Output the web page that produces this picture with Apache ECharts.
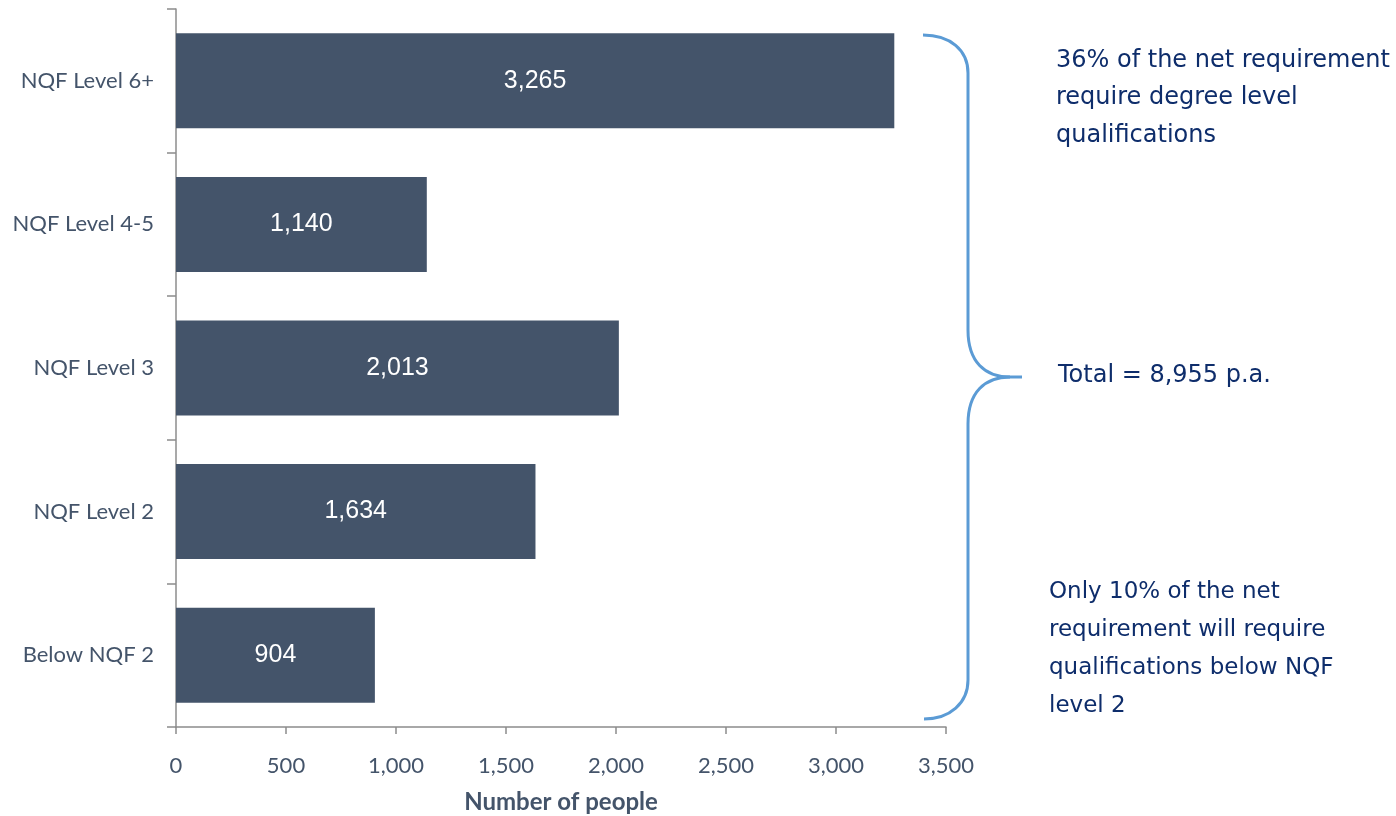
<!DOCTYPE html>
<html>
<head>
<meta charset="utf-8">
<script src="https://cdn.jsdelivr.net/npm/echarts@6/dist/echarts.min.js"></script>
<style>
html,body{margin:0;padding:0;background:#fff;}
#chart{width:1396px;height:816px;}
</style>
</head>
<body>
<div id="chart"></div>
<script>
const categories = ['NQF Level 6+', 'NQF Level 4-5', 'NQF Level 3', 'NQF Level 2', 'Below NQF 2'];
const values = [3265, 1140, 2013, 1634, 904];
const xTicks = { min: 0, max: 3500, interval: 500 };
const axisTitle = 'Number of people';
const noteTop = ['36% of the net requirement', 'require degree level', 'qualifications'];
const noteMid = 'Total = 8,955 p.a.';
const noteBottom = ['Only 10% of the net', 'requirement will require', 'qualifications below NQF', 'level 2'];

const fmt = v => Number(v).toLocaleString('en-US');
const chart = echarts.init(document.getElementById('chart'));
const labelFont = 'Lato, "Open Sans", sans-serif';
const noteFont = '"DejaVu Sans", Verdana, sans-serif';
const noteColor = '#0E2D6B';
const braceStyle = { fill: null, stroke: '#5B9BD5', lineWidth: 3 };

const curve = (x1, y1, cx1, cy1, cx2, cy2, x2, y2) => ({
  type: 'bezierCurve',
  shape: { x1, y1, x2, y2, cpx1: cx1, cpy1: cy1, cpx2: cx2, cpy2: cy2 },
  style: braceStyle
});
const seg = (x1, y1, x2, y2) => ({ type: 'line', shape: { x1, y1, x2, y2 }, style: braceStyle });

chart.setOption({
  animation: false,
  grid: { left: 176, right: 450, top: 9, bottom: 89, containLabel: false, outerBoundsMode: 'none' },
  xAxis: {
    type: 'value',
    min: xTicks.min, max: xTicks.max, interval: xTicks.interval,
    name: axisTitle,
    nameLocation: 'middle',
    nameGap: 63,
    nameMoveOverlap: false,
    nameTextStyle: { fontFamily: labelFont, fontWeight: 'bold', fontSize: 24, color: '#44546A' },
    axisLine: { show: true, lineStyle: { color: '#8C8C8C', width: 1.5 } },
    axisTick: { show: true, length: 7, lineStyle: { color: '#8C8C8C', width: 1.5 } },
    axisLabel: { formatter: fmt, margin: 28, fontFamily: labelFont, fontSize: 22, color: '#44546A' },
    splitLine: { show: false }
  },
  yAxis: {
    type: 'category',
    data: categories,
    inverse: true,
    axisLine: { show: true, lineStyle: { color: '#8C8C8C', width: 1.5 } },
    axisTick: { show: true, length: 9, alignWithLabel: false, lineStyle: { color: '#8C8C8C', width: 1.5 } },
    axisLabel: { margin: 22, fontFamily: labelFont, fontSize: 22, color: '#44546A' }
  },
  series: [{
    type: 'bar',
    data: values,
    barWidth: 95,
    itemStyle: { color: '#44546A' },
    label: {
      show: true, position: 'inside', formatter: p => fmt(p.value),
      color: '#fff', fontSize: 25, fontFamily: '"Liberation Sans", Arial, sans-serif'
    }
  }],
  graphic: [
    curve(923, 35, 950, 35, 968, 50, 968, 73),
    seg(968, 73, 968, 330),
    curve(968, 330, 968, 362, 985, 377, 1010, 377),
    seg(1010, 377, 1022, 377),
    curve(1010, 377, 985, 377, 968, 392, 968, 424),
    seg(968, 424, 968, 680),
    curve(968, 680, 968, 703, 950, 719, 924, 719),
    {
      type: 'text', left: 1056, top: 42,
      style: { text: noteTop.join('\n'), font: '24px ' + noteFont, fill: noteColor, lineHeight: 37.5 }
    },
    {
      type: 'text', left: 1058, top: 357,
      style: { text: noteMid, font: '24px ' + noteFont, fill: noteColor, lineHeight: 37 }
    },
    {
      type: 'text', left: 1049, top: 573,
      style: { text: noteBottom.join('\n'), font: '23px ' + noteFont, fill: noteColor, lineHeight: 38 }
    }
  ]
});
</script>
</body>
</html>
